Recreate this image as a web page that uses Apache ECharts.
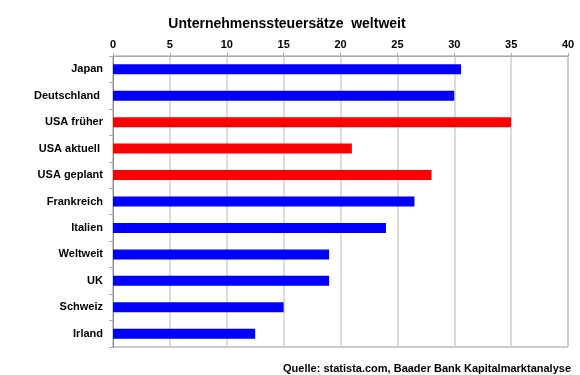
<!DOCTYPE html>
<html>
<head>
<meta charset="utf-8">
<script src="https://cdn.jsdelivr.net/npm/echarts@6/dist/echarts.min.js"></script>
<style>
html, body {margin: 0; padding: 0; background: #fff;}
#chart {width: 580px; height: 375px;}
</style>
</head>
<body>
<div id="chart"></div>
<script>
var laender = ['Japan', 'Deutschland ', 'USA früher', 'USA aktuell ', 'USA geplant', 'Frankreich', 'Italien', 'Weltweit', 'UK', 'Schweiz', 'Irland'];
var steuersatz = [30.6, 30, 35, 21, 28, 26.5, 24, 19, 19, 15, 12.5];
var usaMarker = [false, false, true, true, true, false, false, false, false, false, false];

var barData = [];
for (var i = 0; i < steuersatz.length; i++) {
    barData.push({
        value: steuersatz[i],
        itemStyle: {color: usaMarker[i] ? '#ff0000' : '#0000ff'}
    });
}

var fontName = '"Liberation Sans", Arial, sans-serif';

var chart = echarts.init(document.getElementById('chart'));
chart.setOption({
    animation: false,
    title: [{
        text: 'Unternehmenssteuersätze  weltweit',
        left: 282,
        top: 12,
        textAlign: 'center',
        textStyle: {fontFamily: fontName, fontSize: 14, fontWeight: 'bold', color: '#000'}
    }, {
        text: 'Quelle: statista.com, Baader Bank Kapitalmarktanalyse',
        right: 4,
        top: 358,
        textStyle: {fontFamily: fontName, fontSize: 11, fontWeight: 'bold', color: '#000'}
    }],
    grid: {
        left: 113, right: 12, top: 56, bottom: 28,
        show: true,
        borderColor: '#999',
        borderWidth: 1
    },
    xAxis: {
        type: 'value',
        position: 'top',
        min: 0,
        max: 40,
        interval: 5,
        axisLine: {show: true, lineStyle: {color: '#aaa'}},
        axisTick: {show: true, length: 3, lineStyle: {color: '#aaa'}},
        axisLabel: {margin: 6, fontFamily: fontName, fontSize: 11, fontWeight: 'bold', color: '#000'},
        splitLine: {show: true, lineStyle: {color: '#d0d0d0', width: 1.5}}
    },
    yAxis: {
        type: 'category',
        data: laender,
        inverse: true,
        axisLine: {show: true, lineStyle: {color: '#888'}},
        axisTick: {show: true, length: 4, lineStyle: {color: '#aaa'}},
        axisLabel: {margin: 10, fontFamily: fontName, fontSize: 11, fontWeight: 'bold', color: '#000'},
        splitLine: {show: false}
    },
    series: [{
        type: 'bar',
        data: barData,
        barWidth: 10
    }]
});
</script>
</body>
</html>
